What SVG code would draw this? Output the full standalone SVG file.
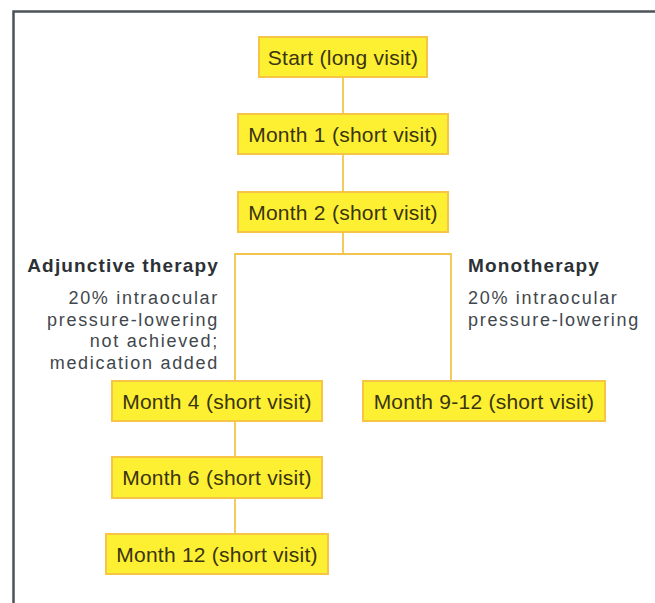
<svg xmlns="http://www.w3.org/2000/svg" width="655" height="603" viewBox="0 0 655 603">
<style>
.box rect{fill:#fdf032;stroke:#f6c545;stroke-width:2}
.box text{font-family:"Liberation Sans",Arial,sans-serif;font-size:21px;fill:#3a3410;text-anchor:middle;letter-spacing:0.25px}
.conn line,.conn path{stroke:#f3c54e;stroke-width:1.8;fill:none}
.hd{font-family:"Liberation Sans",Arial,sans-serif;font-size:19px;font-weight:bold;fill:#2c3136;letter-spacing:1.15px}
.lb{font-family:"Liberation Sans",Arial,sans-serif;font-size:18px;fill:#41474d;letter-spacing:1.7px}
</style>
<rect x="0" y="0" width="655" height="603" fill="#ffffff"/>
<path d="M13.5,603 V11.5 H655" fill="none" stroke="#4b5359" stroke-width="2.5"/>
<g class="conn">
<line x1="343" y1="77" x2="343" y2="114"/>
<line x1="343" y1="154" x2="343" y2="192"/>
<path d="M343,232 V254 M235,381 V254 H451 V381"/>
<line x1="235" y1="421" x2="235" y2="457"/>
<line x1="235" y1="498" x2="235" y2="534"/>
</g>
<g id="start" class="box"><rect x="259" y="37" width="168" height="40"/><text x="343" y="65">Start (long visit)</text></g>
<g id="m1" class="box"><rect x="238" y="114" width="210" height="40"/><text x="343" y="142">Month 1 (short visit)</text></g>
<g id="m2" class="box"><rect x="238" y="192" width="210" height="40"/><text x="343" y="220">Month 2 (short visit)</text></g>
<g id="m4" class="box"><rect x="112" y="381" width="210" height="40"/><text x="217" y="409">Month 4 (short visit)</text></g>
<g id="m912" class="box"><rect x="363" y="381" width="242" height="40"/><text x="484" y="409">Month 9-12 (short visit)</text></g>
<g id="m6" class="box"><rect x="112" y="457" width="210" height="41"/><text x="217" y="485">Month 6 (short visit)</text></g>
<g id="m12" class="box"><rect x="106" y="534" width="222" height="40"/><text x="217" y="562">Month 12 (short visit)</text></g>
<g id="adj">
<text class="hd" x="219" y="272" text-anchor="end">Adjunctive therapy</text>
<text class="lb" text-anchor="end"><tspan x="219" y="304">20% intraocular</tspan><tspan x="219" y="325.5">pressure-lowering</tspan><tspan x="219" y="347">not achieved;</tspan><tspan x="219" y="368.5">medication added</tspan></text>
</g>
<g id="mono">
<text class="hd" x="468" y="272">Monotherapy</text>
<text class="lb"><tspan x="468" y="304">20% intraocular</tspan><tspan x="468" y="325.5">pressure-lowering</tspan></text>
</g>
</svg>
